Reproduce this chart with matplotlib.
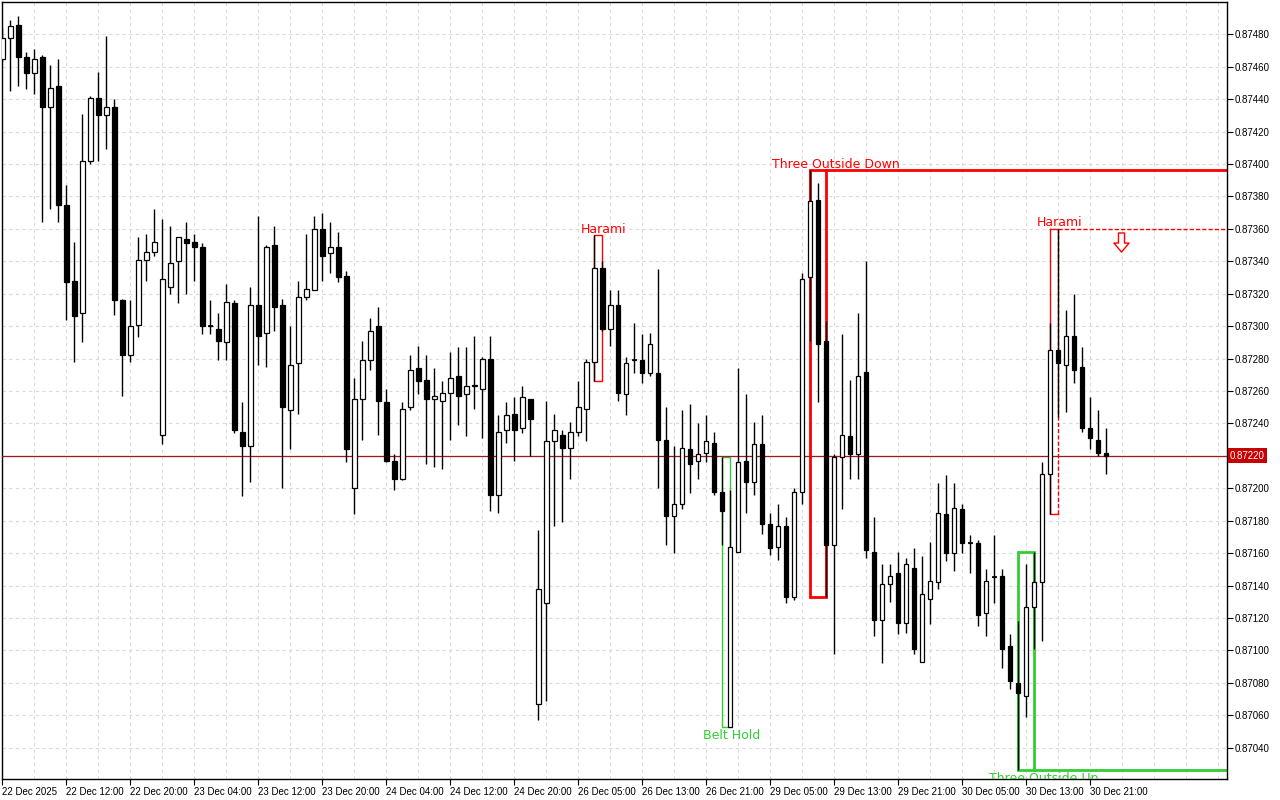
import matplotlib
matplotlib.use("Agg")
import matplotlib.pyplot as plt
from matplotlib.path import Path
from matplotlib.patches import Rectangle
from matplotlib.ticker import FixedLocator, MultipleLocator
import numpy as np

# ---------------- data (H1 candles, price) ----------------
opens = [0.87465, 0.87478, 0.87486, 0.87466, 0.87456, 0.87466, 0.87435, 0.87448, 0.87375, 0.87328,
         0.87308, 0.87402, 0.87441, 0.87430, 0.87435, 0.87316, 0.87282, 0.87301, 0.87341, 0.87346,
         0.87233, 0.87324, 0.87340, 0.87354, 0.87352, 0.87349, 0.87300, 0.87298, 0.87290, 0.87314,
         0.87235, 0.87226, 0.87313, 0.87296, 0.87350, 0.87313, 0.87248, 0.87277, 0.87318, 0.87322,
         0.87360, 0.87345, 0.87349, 0.87331, 0.87200, 0.87255, 0.87279, 0.87300, 0.87253, 0.87217,
         0.87206, 0.87250, 0.87274, 0.87267, 0.87255, 0.87254, 0.87259, 0.87269, 0.87258, 0.87263,
         0.87261, 0.87280, 0.87196, 0.87236, 0.87246, 0.87237, 0.87255, 0.87067, 0.87129, 0.87229,
         0.87233, 0.87225, 0.87235, 0.87249, 0.87278, 0.87336, 0.87298, 0.87313, 0.87258, 0.87279,
         0.87279, 0.87271, 0.87271, 0.87230, 0.87183, 0.87190, 0.87224, 0.87217, 0.87222, 0.87228,
         0.87198, 0.87053, 0.87161, 0.87217, 0.87204, 0.87227, 0.87178, 0.87164, 0.87177, 0.87133,
         0.87198, 0.87330, 0.87378, 0.87291, 0.87165, 0.87219, 0.87232, 0.87221, 0.87272, 0.87161,
         0.87119, 0.87141, 0.87148, 0.87117, 0.87151, 0.87093, 0.87132, 0.87142, 0.87184, 0.87160,
         0.87187, 0.87166, 0.87166, 0.87123, 0.87145, 0.87146, 0.87103, 0.87080, 0.87072, 0.87127,
         0.87142, 0.87209, 0.87285, 0.87276, 0.87294, 0.87275, 0.87237, 0.87230, 0.87222]
highs = [0.87484, 0.87489, 0.87491, 0.87469, 0.87471, 0.87467, 0.87461, 0.87465, 0.87387, 0.87352,
         0.87431, 0.87442, 0.87457, 0.87479, 0.87440, 0.87317, 0.87316, 0.87355, 0.87357, 0.87372,
         0.87366, 0.87362, 0.87355, 0.87364, 0.87357, 0.87351, 0.87316, 0.87308, 0.87326, 0.87316,
         0.87253, 0.87324, 0.87368, 0.87350, 0.87362, 0.87317, 0.87300, 0.87328, 0.87357, 0.87368,
         0.87370, 0.87364, 0.87358, 0.87334, 0.87268, 0.87291, 0.87305, 0.87312, 0.87261, 0.87221,
         0.87253, 0.87282, 0.87288, 0.87282, 0.87274, 0.87266, 0.87284, 0.87287, 0.87287, 0.87294,
         0.87281, 0.87294, 0.87245, 0.87253, 0.87256, 0.87263, 0.87255, 0.87174, 0.87254, 0.87246,
         0.87236, 0.87241, 0.87266, 0.87280, 0.87356, 0.87340, 0.87322, 0.87322, 0.87281, 0.87302,
         0.87295, 0.87296, 0.87335, 0.87250, 0.87226, 0.87248, 0.87252, 0.87240, 0.87245, 0.87235,
         0.87219, 0.87199, 0.87274, 0.87258, 0.87241, 0.87245, 0.87185, 0.87190, 0.87182, 0.87200,
         0.87333, 0.87396, 0.87388, 0.87303, 0.87221, 0.87295, 0.87267, 0.87308, 0.87340, 0.87182,
         0.87153, 0.87153, 0.87161, 0.87157, 0.87163, 0.87158, 0.87167, 0.87203, 0.87208, 0.87203,
         0.87190, 0.87171, 0.87168, 0.87150, 0.87171, 0.87150, 0.87110, 0.87118, 0.87153, 0.87161,
         0.87216, 0.87302, 0.87360, 0.87310, 0.87320, 0.87287, 0.87256, 0.87248, 0.87237]
lows = [0.87463, 0.87445, 0.87448, 0.87446, 0.87443, 0.87364, 0.87372, 0.87364, 0.87304, 0.87278,
        0.87290, 0.87400, 0.87402, 0.87409, 0.87307, 0.87257, 0.87278, 0.87293, 0.87328, 0.87343,
        0.87227, 0.87320, 0.87314, 0.87320, 0.87328, 0.87295, 0.87295, 0.87279, 0.87279, 0.87234,
        0.87195, 0.87204, 0.87276, 0.87275, 0.87297, 0.87200, 0.87224, 0.87246, 0.87316, 0.87322,
        0.87328, 0.87333, 0.87327, 0.87216, 0.87184, 0.87230, 0.87273, 0.87233, 0.87216, 0.87199,
        0.87205, 0.87248, 0.87258, 0.87215, 0.87213, 0.87212, 0.87230, 0.87239, 0.87232, 0.87249,
        0.87231, 0.87186, 0.87185, 0.87228, 0.87217, 0.87234, 0.87220, 0.87057, 0.87069, 0.87177,
        0.87179, 0.87206, 0.87232, 0.87229, 0.87266, 0.87297, 0.87288, 0.87254, 0.87245, 0.87271,
        0.87265, 0.87269, 0.87200, 0.87165, 0.87160, 0.87187, 0.87197, 0.87206, 0.87216, 0.87196,
        0.87165, 0.87053, 0.87161, 0.87185, 0.87196, 0.87172, 0.87159, 0.87156, 0.87129, 0.87131,
        0.87190, 0.87291, 0.87253, 0.87133, 0.87098, 0.87187, 0.87206, 0.87206, 0.87157, 0.87109,
        0.87092, 0.87130, 0.87110, 0.87111, 0.87098, 0.87093, 0.87116, 0.87138, 0.87155, 0.87149,
        0.87160, 0.87148, 0.87115, 0.87109, 0.87129, 0.87089, 0.87076, 0.87026, 0.87059, 0.87101,
        0.87106, 0.87184, 0.87244, 0.87247, 0.87265, 0.87235, 0.87224, 0.87220, 0.87209]
closes = [0.87478, 0.87485, 0.87466, 0.87456, 0.87465, 0.87435, 0.87447, 0.87375, 0.87327, 0.87306,
          0.87402, 0.87441, 0.87430, 0.87435, 0.87316, 0.87282, 0.87300, 0.87341, 0.87346, 0.87352,
          0.87329, 0.87339, 0.87355, 0.87351, 0.87349, 0.87300, 0.87300, 0.87291, 0.87315, 0.87236,
          0.87226, 0.87313, 0.87294, 0.87349, 0.87312, 0.87250, 0.87276, 0.87318, 0.87323, 0.87360,
          0.87343, 0.87349, 0.87330, 0.87224, 0.87255, 0.87279, 0.87297, 0.87254, 0.87217, 0.87206,
          0.87249, 0.87273, 0.87266, 0.87255, 0.87257, 0.87259, 0.87268, 0.87257, 0.87263, 0.87264,
          0.87280, 0.87196, 0.87235, 0.87245, 0.87236, 0.87256, 0.87243, 0.87138, 0.87229, 0.87236,
          0.87225, 0.87235, 0.87250, 0.87278, 0.87336, 0.87298, 0.87313, 0.87259, 0.87277, 0.87279,
          0.87271, 0.87289, 0.87230, 0.87183, 0.87190, 0.87225, 0.87215, 0.87221, 0.87229, 0.87198,
          0.87186, 0.87164, 0.87216, 0.87204, 0.87227, 0.87178, 0.87163, 0.87177, 0.87133, 0.87198,
          0.87329, 0.87377, 0.87289, 0.87165, 0.87219, 0.87233, 0.87221, 0.87269, 0.87162, 0.87119,
          0.87141, 0.87146, 0.87117, 0.87153, 0.87101, 0.87135, 0.87143, 0.87185, 0.87160, 0.87188,
          0.87166, 0.87166, 0.87122, 0.87143, 0.87145, 0.87101, 0.87081, 0.87074, 0.87127, 0.87142,
          0.87209, 0.87285, 0.87277, 0.87294, 0.87273, 0.87237, 0.87231, 0.87222, 0.87220]

date_labels = ["22 Dec 2025", "22 Dec 12:00", "22 Dec 20:00", "23 Dec 04:00", "23 Dec 12:00",
               "23 Dec 20:00", "24 Dec 04:00", "24 Dec 12:00", "24 Dec 20:00", "26 Dec 05:00",
               "26 Dec 13:00", "26 Dec 21:00", "29 Dec 05:00", "29 Dec 13:00", "29 Dec 21:00",
               "30 Dec 05:00", "30 Dec 13:00", "30 Dec 21:00"]
label_every = 8  # bars between date labels

price_ticks = [0.87040, 0.87060, 0.87080, 0.87100, 0.87120, 0.87140, 0.87160, 0.87180, 0.87200,
               0.87220, 0.87240, 0.87260, 0.87280, 0.87300, 0.87320, 0.87340, 0.87360, 0.87380,
               0.87400, 0.87420, 0.87440, 0.87460, 0.87480]

# patterns: (name, first bar, last bar, direction)
pattern_names = ["Harami", "Belt Hold", "Three Outside Down", "Three Outside Up", "Harami"]
pattern_first = [74, 90, 101, 127, 131]
pattern_last = [75, 91, 103, 129, 132]
pattern_dir = ["bear", "bull", "bear", "bull", "bear"]

# ---------------- figure ----------------
RED = "#ff0000"
GREEN = "#32cd32"
plt.rcParams["font.family"] = ["Liberation Sans", "DejaVu Sans"]

fig = plt.figure(figsize=(12.8, 8), dpi=100)
ax = fig.add_axes([2 / 1280, 21 / 800, 1225 / 1280, 777 / 800])

o = np.array(opens); h = np.array(highs); l = np.array(lows); c = np.array(closes)
x = np.arange(len(o))
XMAX = 153.09
ax.set_xlim(-0.04, XMAX)
ax.set_ylim(0.870207, 0.874999)

# wicks
ax.vlines(x, l, h, color="black", lw=1.0, zorder=4)
# bodies
bull = c >= o
bottoms = np.minimum(o, c)
heights = np.abs(c - o)
ax.bar(x, heights, bottom=bottoms, width=0.55,
       color=np.where(bull, "white", "black"), edgecolor="black", linewidth=0.9, zorder=5)
doji = heights < 1e-6
ax.hlines(c[doji], x[doji] - 0.33, x[doji] + 0.33, color="black", lw=1.2, zorder=6)

# current price line
last = c[-1]
ax.axhline(last, color="#a01818", lw=0.9, zorder=3)

# patterns
for name, a, b, d in zip(pattern_names, pattern_first, pattern_last, pattern_dir):
    top = h[a:b + 1].max()
    bot = l[a:b + 1].min()
    col = RED if d == "bear" else GREEN
    n = b - a + 1
    lw = 2.0 if n == 3 else 1.0
    if name == "Harami" and a == pattern_first[-1]:
        ax.plot([a, a, b, b], [top, bot, bot, bot], color=col, lw=lw, zorder=2)
        ax.plot([a, b], [top, top], color=col, lw=lw, zorder=2)
        ax.plot([b, b], [bot, top], color=col, lw=lw, ls=(0, (3, 1.5)), zorder=2)
        ax.plot([b, XMAX], [top, top], color=col, lw=lw, ls=(0, (3, 1.5)), zorder=2)
        # hollow down arrow signal
        verts = [(-0.16, 0.5), (0.16, 0.5), (0.16, -0.03), (0.4, -0.03), (0.0, -0.5),
                 (-0.4, -0.03), (-0.16, -0.03), (-0.16, 0.5)]
        arrow = Path(verts, [Path.MOVETO] + [Path.LINETO] * 6 + [Path.CLOSEPOLY])
        ax.plot([b + 7.9], [top - 0.00008], marker=arrow, markersize=13.7,
                markerfacecolor="white", markeredgecolor=RED, markeredgewidth=1.0,
                zorder=7, ls="none")
    else:
        ax.add_patch(Rectangle((a, bot), b - a, top - bot, fill=False, ec=col, lw=lw, zorder=2))
        if n == 3:
            yy = top if d == "bear" else bot
            ax.plot([b, XMAX], [yy, yy], color=col, lw=lw, zorder=2)
    tx = b + (1.2 if n == 3 else 0.2)
    if d == "bear":
        ax.text(tx, top + 0.000017, name, color=col, fontsize=9, family="DejaVu Sans",
                ha="center", va="baseline", zorder=8)
    else:
        ax.text(tx, bot - 0.000012, name, color=col, fontsize=9, family="DejaVu Sans",
                ha="center", va="top", zorder=8, clip_on=True)

# axes styling
for s in ax.spines.values():
    s.set_color("black")
    s.set_linewidth(1.0)
ax.yaxis.tick_right()
ax.set_yticks(price_ticks)
last_txt = f"{last:.5f}"
ax.set_yticklabels(["" if f"{p:.5f}" == last_txt else f"{p:.5f}" for p in price_ticks])
ax.tick_params(axis="y", direction="out", length=4, width=0.8, labelsize=7, pad=1.5,
               colors="black")

xt = [i * label_every for i in range(len(date_labels))]
ax.xaxis.set_major_locator(FixedLocator(xt))
ax.xaxis.set_minor_locator(MultipleLocator(4))
ax.set_xticklabels(date_labels)
for lab in ax.get_xticklabels():
    lab.set_ha("left")
ax.tick_params(axis="x", which="major", direction="out", length=4, width=0.8,
               labelsize=7, pad=1.5)
ax.tick_params(axis="x", which="minor", length=0)

ax.grid(which="both", axis="x", color="#dadada", lw=0.8, ls=(0, (3, 3)), zorder=0)
ax.grid(which="major", axis="y", color="#dadada", lw=0.8, ls=(0, (3, 3)), zorder=0)
ax.set_axisbelow(True)

# current price tag on the right axis
trans = ax.get_yaxis_transform()
ax.text(1.0025, last, last_txt, transform=trans, color="white", fontsize=7,
        ha="left", va="center", clip_on=False, zorder=10,
        bbox=dict(boxstyle="square,pad=0.25", fc="#c80000", ec="none"))

fig.savefig("out.png", dpi=100, facecolor="white")
